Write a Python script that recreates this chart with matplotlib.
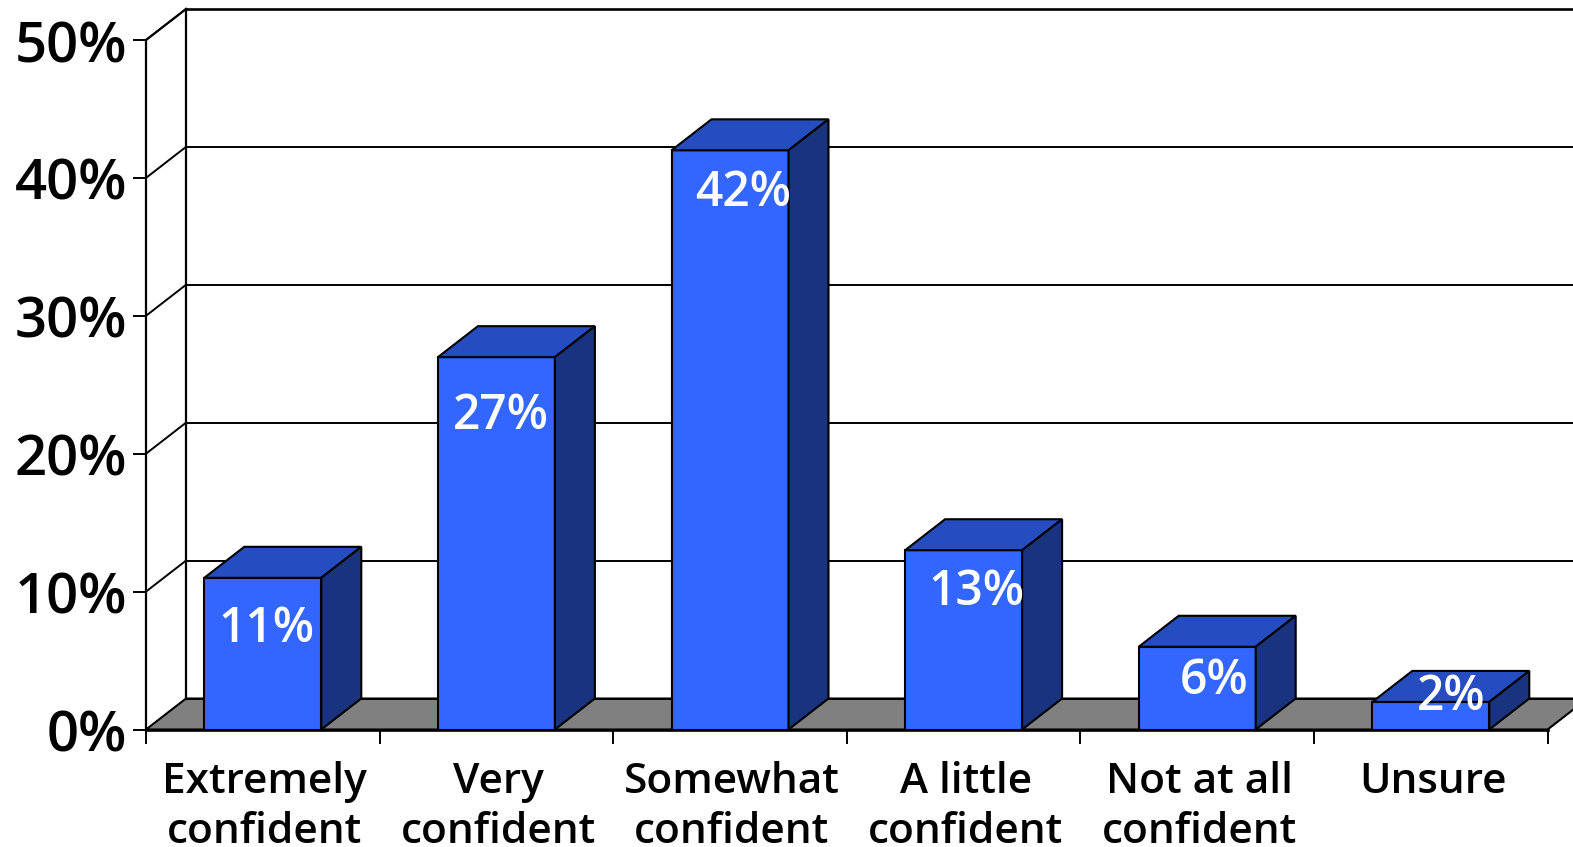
import matplotlib
matplotlib.use("Agg")
import matplotlib.pyplot as plt
from matplotlib.patches import Polygon

categories = ["Extremely\nconfident", "Very\nconfident", "Somewhat\nconfident",
              "A little\nconfident", "Not at all\nconfident", "Unsure"]
values = [11, 27, 42, 13, 6, 2]
labels = ["11%", "27%", "42%", "13%", "6%", "2%"]
yticks = [0, 10, 20, 30, 40, 50]

# where each value label sits relative to its bar (pixels): right of centre, below front top
label_dx = [4, 4, 13, 13, 17, 20]
label_dy = [64, 72, 56, 55, 47, 8]

W, H = 1573, 847
X0, Y0 = 146, 729.5      # pixel position of the front origin
PX_CAT, PX_PCT = 233.6, 13.79

# depth of the 3d box, in data units
DX = 40 / PX_CAT
DY = 31 / PX_PCT
BAR = 117 / PX_CAT


def poly(ax, pts, color, z=2):
    ax.add_patch(Polygon(pts, closed=True, facecolor=color, edgecolor="black", lw=1.5, zorder=z))


def main():
    plt.rcParams['font.family'] = ['Open Sans', 'DejaVu Sans']
    fig = plt.figure(figsize=(W / 100, H / 100), dpi=100)
    ax = fig.add_axes([0, 0, 1, 1])
    ax.set_xlim(-X0 / PX_CAT, (W - X0) / PX_CAT)
    ax.set_ylim((Y0 - H) / PX_PCT, Y0 / PX_PCT)
    ax.axis("off")

    n = len(categories)

    # floor
    poly(ax, [(0, 0), (n, 0), (n + DX, DY), (DX, DY)], "#808080", 1)

    # back wall and side wall
    ax.plot([DX, DX], [DY, 50 + DY], color="black", lw=1.6, zorder=1)
    ax.plot([0, 0], [0, 50], color="black", lw=1.6, zorder=1)
    ax.plot([0, DX], [50, 50 + DY], color="black", lw=1.5, zorder=1)
    for t in yticks:
        ax.plot([DX, n + DX + 1], [t + DY, t + DY], color="black", lw=1.9 if t == 50 else 1.4, zorder=1)
        if t > 0:
            ax.plot([0, DX], [t, t + DY], color="black", lw=1.4, zorder=1)
        ax.plot([-12 / PX_CAT, 0], [t, t], color="black", lw=1.4, zorder=1)
        ax.text(-19 / PX_CAT, t - 22 / PX_PCT, f"{t}%", ha="right", va="baseline",
                fontsize=40.5, fontweight="semibold")

    # x axis with ticks between the categories
    ax.plot([0, n], [0, 0], color="black", lw=1.9, zorder=1)
    for i in range(n + 1):
        ax.plot([i, i], [0, -13 / PX_PCT], color="black", lw=1.4, zorder=1)

    for i, (cat, v, lab) in enumerate(zip(categories, values, labels)):
        x1 = i + (1 - BAR) / 2
        x2 = x1 + BAR
        poly(ax, [(x1, 0), (x2, 0), (x2, v), (x1, v)], "#3366FF", 3)
        poly(ax, [(x1, v), (x2, v), (x2 + DX, v + DY), (x1 + DX, v + DY)], "#264DBF", 3)
        poly(ax, [(x2, 0), (x2 + DX, DY), (x2 + DX, v + DY), (x2, v)], "#1A337F", 3)
        ax.text(i + 0.5 + label_dx[i] / PX_CAT, v - label_dy[i] / PX_PCT, lab, color="white",
                ha="center", va="baseline", fontsize=34.5, fontweight="semibold", zorder=4)
        for j, line in enumerate(cat.split("\n")):
            ax.text(i + 0.5 + 2 / PX_CAT, -(63 + j * 50) / PX_PCT, line, ha="center", va="baseline",
                    fontsize=30.5, fontweight="semibold", zorder=4)

    fig.savefig("out.png", dpi=100)


if __name__ == "__main__":
    main()
